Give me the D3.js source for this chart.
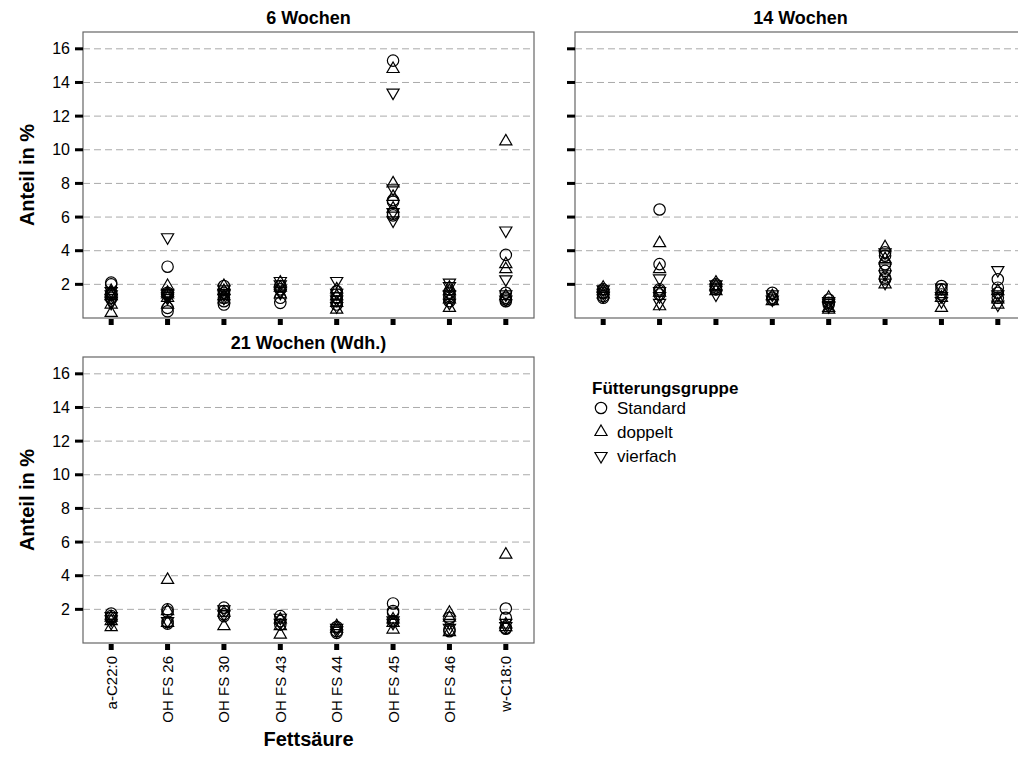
<!DOCTYPE html>
<html><head><meta charset="utf-8">
<script src="https://cdn.jsdelivr.net/npm/d3@7"></script>
<style>body{margin:0;background:#fff;} svg{font-family:"Liberation Sans",Arial,sans-serif;} svg text{font-family:"Liberation Sans",Arial,sans-serif;}</style>
</head><body>
<svg id="c" width="1018" height="760"></svg>
<script>
const categories = ["a-C22:0","OH FS 26","OH FS 30","OH FS 43","OH FS 44","OH FS 45","OH FS 46","w-C18:0"];
const yTicks = [2,4,6,8,10,12,14,16];
const groups = ["Standard","doppelt","vierfach"];
const panelTitles = ["6 Wochen","14 Wochen","21 Wochen (Wdh.)"];

// values per category (index matches categories)
const w6_standard = [[2.1,2.0,1.5,1.4,1.2],[3.05,0.4,0.6,1.4,1.5],[0.8,1.0,1.9,1.5,1.2],[0.9,1.2,1.7,1.9],[1.6,1.2,1.0,0.8,1.4],[15.3,7.0,6.9,6.2,6.1],[1.0,1.3,1.5,1.2],[3.75,1.5,1.2,1.0,1.1]];
const w6_doppelt  = [[0.3,0.8,1.3,1.6,1.5],[1.9,1.5,0.8,1.2,1.4],[1.9,1.6,1.3,1.1],[2.1,1.8,1.4],[0.5,0.9,1.3,1.7],[14.8,8.0,7.2,6.5],[0.6,1.6,1.8,1.1],[10.5,3.2,2.9,1.3]];
const w6_vierfach = [[1.0,1.2,1.4,1.6,0.9],[4.8,1.5,1.3,1.4,1.2],[1.7,1.4,1.5,1.2],[2.2,2.0,1.6,1.5],[2.2,1.1,0.7,1.5],[13.4,7.7,6.3,5.8],[2.1,1.9,1.4,0.9],[5.2,2.3,1.1,1.4]];

const w14_standard = [[1.7,1.5,1.3,1.2],[6.45,3.2,1.6,1.4,1.7],[2.0,1.8,1.7],[1.5,1.2,1.1],[1.1,0.9,0.8],[3.9,3.7,3.2,2.8,2.4,2.3],[1.9,1.7,1.4],[2.3,1.8,1.5,1.2]];
const w14_doppelt  = [[1.6,1.4,1.8],[4.45,2.9,1.5,0.7],[2.1,1.9,1.6],[1.3,1.0],[1.2,0.6,0.5],[4.2,3.5,2.0],[0.6,1.2,1.6],[1.6,0.8,1.1]];
const w14_vierfach = [[1.3,1.5,1.7],[2.35,1.6,1.3,0.9],[1.4,1.8,2.0],[1.4,1.1],[1.0,0.7,0.9],[3.9,3.0,2.1,2.6],[1.0,1.3,1.8],[2.85,1.4,0.8]];

const w21_standard = [[1.75,1.6,1.5],[2.0,1.85,1.25,1.15],[2.1,1.9,1.7,1.6],[1.6,1.3,1.1],[0.95,0.7,0.6],[2.35,1.9,1.8,1.3],[1.5,0.8,0.7],[2.05,1.5,0.9,0.85]];
const w21_doppelt  = [[0.95,1.3,1.5],[3.75,1.9,1.2],[1.0,1.8],[0.5,1.4,1.0],[1.0,0.85],[1.4,0.8,1.2],[1.8,1.5,0.65],[5.25,1.1,0.95]];
const w21_vierfach = [[1.4,1.6,1.2],[1.3],[1.7,2.0],[1.2,1.5],[0.9,0.75],[1.35,1.2],[1.2,0.9],[1.0,1.2]];

const panelData = [
  [w6_standard,w6_doppelt,w6_vierfach],
  [w14_standard,w14_doppelt,w14_vierfach],
  [w21_standard,w21_doppelt,w21_vierfach]
];

const svg = d3.select("#c");
const W = 451, H = 286;
const panels = [
  {x:83, y:32, yLabels:true, xLabels:false},
  {x:575, y:32, yLabels:false, xLabels:false},
  {x:83, y:357, yLabels:true, xLabels:true}
];
const x = d3.scalePoint().domain(categories).range([0,W]).padding(0.5);
const y = d3.scaleLinear().domain([0,17]).range([H,0]);

function marker(sel, g){
  if(g===0){
    sel.append("circle").attr("r",5.7).attr("fill","none").attr("stroke","#000").attr("stroke-width",1.2);
  } else {
    sel.append("path").attr("d", d3.symbol(d3.symbolTriangle, 64)())
      .attr("transform", g===2 ? "rotate(180)" : null)
      .attr("fill","none").attr("stroke","#000").attr("stroke-width",1.2);
  }
}

panels.forEach((p,i)=>{
  const g = svg.append("g").attr("transform",`translate(${p.x},${p.y})`);
  g.selectAll("line.grid").data(yTicks).join("line").attr("class","grid")
    .attr("x1",0).attr("x2",W).attr("y1",d=>y(d)).attr("y2",d=>y(d))
    .attr("stroke","#aaa").attr("stroke-width",1).attr("stroke-dasharray","7,4");
  g.append("rect").attr("x",0).attr("y",0).attr("width",W).attr("height",H)
    .attr("fill","none").attr("stroke","#666").attr("stroke-width",1.2);
  const ya = g.append("g").call(d3.axisLeft(y).tickValues(yTicks).tickSize(0).tickPadding(13).tickFormat(p.yLabels?d3.format("d"):()=>""));
  ya.attr("font-family",null).attr("font-size",null);
  ya.select(".domain").remove();
  ya.selectAll("text").style("font-size","16px").attr("fill","#000");
  g.selectAll("rect.ytick").data(yTicks).join("rect").attr("class","ytick")
    .attr("x",-8).attr("width",8).attr("y",d=>y(d)-1.5).attr("height",3).attr("fill","#000");
  g.selectAll("rect.xtick").data(categories).join("rect").attr("class","xtick")
    .attr("x",d=>x(d)-2.5).attr("width",5).attr("y",H+1).attr("height",6).attr("fill","#000");
  if(p.xLabels){
    g.selectAll("text.xl").data(categories).join("text").attr("class","xl")
      .attr("transform",d=>`translate(${x(d)+5.5},${H+13}) rotate(-90)`)
      .attr("text-anchor","end").style("font-size","15px").attr("fill","#000").text(d=>d);
    g.append("text").attr("x",W/2).attr("y",H+103).attr("text-anchor","middle")
      .style("font-size","20px").attr("font-weight","bold").text("Fettsäure");
  }
  if(p.yLabels){
    g.append("text").attr("transform",`translate(-49,${H/2}) rotate(-90)`).attr("text-anchor","middle")
      .style("font-size","20px").attr("font-weight","bold").text("Anteil in %");
  }
  g.append("text").attr("x",W/2).attr("y",-8).attr("text-anchor","middle")
    .style("font-size","18px").attr("font-weight","bold").text(panelTitles[i]);
  const clip = "clip"+i;
  g.append("clipPath").attr("id",clip).append("rect").attr("x",0).attr("y",0).attr("width",W).attr("height",H);
  const pts = g.append("g").attr("clip-path",`url(#${clip})`);
  panelData[i].forEach((grp,gi)=>{
    grp.forEach((vals,ci)=>{
      vals.forEach(v=>{
        const m = pts.append("g").attr("transform",`translate(${x(categories[ci])},${y(v)})`);
        marker(m,gi);
      });
    });
  });
});

const lg = svg.append("g").attr("transform","translate(592,0)");
lg.append("text").attr("x",0).attr("y",394).style("font-size","17px").attr("font-weight","bold").text("Fütterungsgruppe");
groups.forEach((name,i)=>{
  const cy = 408 + i*24;
  const m = lg.append("g").attr("transform",`translate(9,${cy})`);
  marker(m,i);
  lg.append("text").attr("x",25).attr("y",cy+6).style("font-size","17px").text(name);
});
</script>
</body></html>
